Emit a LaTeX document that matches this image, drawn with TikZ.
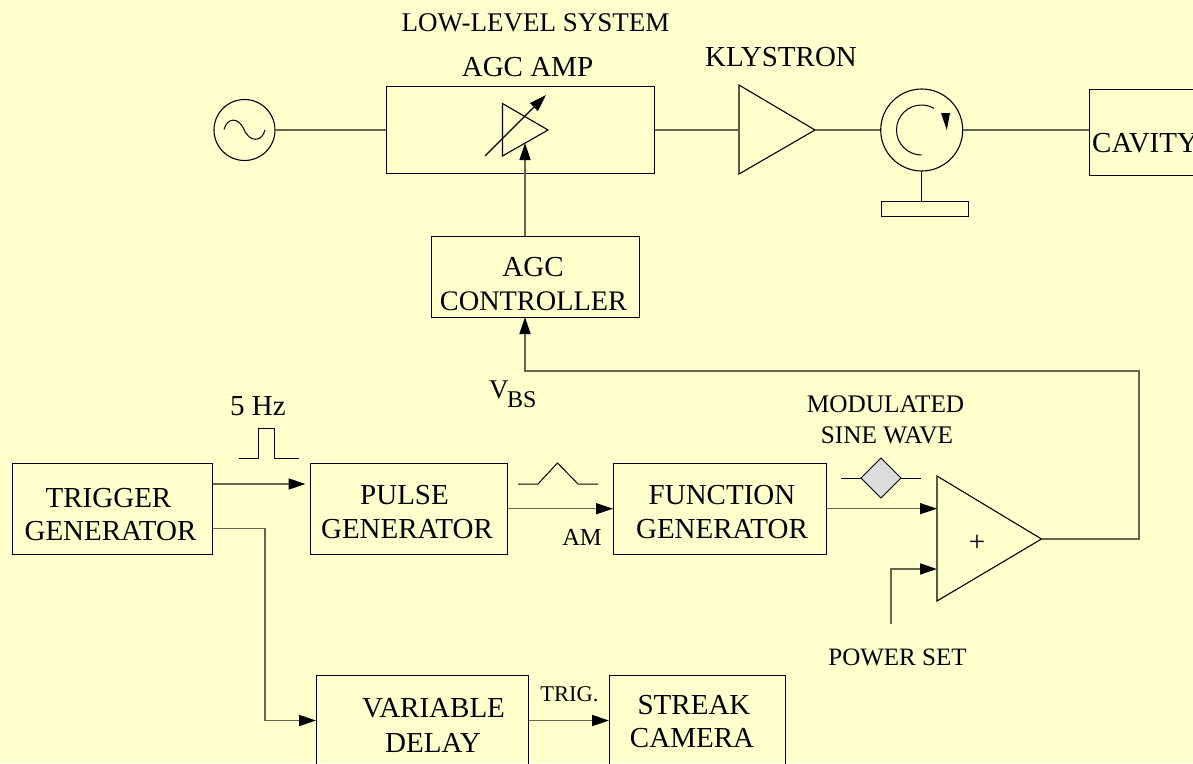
\documentclass[tikz,border=0pt]{standalone}
\usepackage{fontspec}
\setmainfont{Liberation Serif}
\usetikzlibrary{arrows.meta}
\definecolor{paper}{HTML}{FFFFCC}
\definecolor{wire}{HTML}{666650}
\definecolor{diafill}{HTML}{DCDCDC}
\tikzset{
  every picture/.style={x=1pt,y=-1pt},
  stroke/.style={line width=1.1pt,black},
  boxnode/.style={draw,stroke,rectangle,inner sep=0pt,anchor=north west},
  wireline/.style={line width=1.5pt,wire},
  sigline/.style={wireline,-{Triangle[length=17pt,width=11pt,color=black,fill=black]}},
  roundnode/.style={draw,stroke,circle,inner sep=0pt},
  txt/.style={inner sep=0pt,text=black,font=\fontsize{29}{32}\selectfont},
  txtl/.style={txt,font=\fontsize{27}{30}\selectfont},
  txtb/.style={txt,font=\fontsize{25.3}{28}\selectfont},
  txts/.style={txt,font=\fontsize{22.5}{26}\selectfont},
}
\begin{document}
\begin{tikzpicture}
\useasboundingbox (0,0) rectangle (1193,763);
\fill[paper] (0,0) rectangle (1193,763);
\clip (0,0) rectangle (1193,763);

% blocks
\node[roundnode,minimum size=61pt] (src) at (244.5,130) {};
\node[boxnode,minimum width=268pt,minimum height=87pt] (agc) at (386,86) {};
\node[roundnode,minimum size=82pt] (circ) at (921.7,130) {};
\node[boxnode,minimum width=86.5pt,minimum height=15pt] (load) at (881,200.5) {};
\node[boxnode,minimum width=160pt,minimum height=86pt] (cavity) at (1089,89) {};
\node[boxnode,minimum width=208pt,minimum height=81pt] (ctrl) at (431,236) {};
\node[boxnode,minimum width=200pt,minimum height=91pt] (trig) at (12,463) {};
\node[boxnode,minimum width=197pt,minimum height=91pt] (pulse) at (310,463) {};
\node[boxnode,minimum width=213pt,minimum height=91pt] (func) at (613,463) {};
\node[boxnode,minimum width=212pt,minimum height=140pt] (delay) at (316,675) {};
\node[boxnode,minimum width=176pt,minimum height=140pt] (streak) at (609,675) {};

% triangles
\coordinate (vaIn) at (502.5,130);
\coordinate (vaTip) at (548,130);
\coordinate (kIn) at (739,130);
\coordinate (kTip) at (815,130);
\coordinate (sumIn) at (937,539);
\coordinate (sumTip) at (1041.5,539);
\draw[stroke] (502.5,103.5) -- (vaTip) -- (502.5,156) -- cycle;
\draw[stroke] (739,85) -- (kTip) -- (739,174) -- cycle;
\draw[stroke] (937,476) -- (sumTip) -- (937,601) -- cycle;

% variable gain arrow
\coordinate (gainA) at (485,156);
\coordinate (gainB) at (546,95);
\draw[stroke,-{Triangle[length=17pt,width=11pt]}] (gainA) -- (gainB);

% sine in source
\draw[stroke,line width=1pt] (224,129.5) .. controls (227,118) and (238,116) .. (244,129.5)
  .. controls (250,143) and (262,142) .. (265,130);

% circulator inner arrow
\draw[stroke,line width=1pt] (921.5,155) arc[start angle=90,end angle=300,radius=25pt,y radius=-25pt] ;
\fill[black] (941,113) -- (950,113) -- (946.8,130) -- cycle;

% connectors
\draw[wireline] (src.east) -- (agc.west |- src.east);
\draw[wireline] (agc.east |- vaTip) -- (kIn);
\draw[wireline] (kTip) -- (circ.west);
\draw[wireline] (circ.east) -- (cavity.west |- circ.east);
\draw[stroke] (circ.south) -- (circ.south |- load.north);
\coordinate (ctrlOut) at (525,236);
\coordinate (ampCtl) at (525,143);
\draw[sigline] (ctrlOut) -- (ampCtl);
\coordinate (ctrlIn) at (525,317);
\coordinate (fbA) at (1139,539);
\coordinate (fbB) at (1139,371);
\coordinate (fbC) at (525,371);
\draw[sigline] (sumTip) -- (fbA) -- (fbB) -- (fbC) -- (ctrlIn);
\coordinate (pIn) at (305.5,484);
\draw[sigline] (trig.east |- pIn) -- (pIn);
\draw[sigline] (pulse.east |- 0,508.7) -- (func.west |- 0,508.7);
\draw[sigline] (func.east |- 0,508.7) -- (937,508.7);
\coordinate (psA) at (891,624);
\coordinate (psB) at (891,569);
\coordinate (psC) at (937,569);
\draw[sigline] (psA) -- (psB) -- (psC);
\coordinate (dlA) at (265,528.5);
\coordinate (dlB) at (265,720.5);
\draw[sigline] (trig.east |- dlA) -- (dlA) -- (dlB) -- (delay.west |- dlB);
\draw[sigline] (delay.east |- dlB) -- (streak.west |- dlB);

% waveforms
\draw[stroke,line width=1pt] (239,458) -- (258.7,458) -- (258.7,428) -- (274,428) -- (274,458) -- (299,458);
\draw[stroke,line width=1pt] (518,484) -- (538,484) -- (557.5,463) -- (578,484) -- (598,484);
\coordinate (mlA) at (841,478);
\coordinate (mlB) at (921,478);
\draw[stroke,line width=1pt] (mlA) -- (mlB);
\draw[stroke,line width=1pt,fill=diafill] (861,478) -- (881,458) -- (901,478) -- (881,498) -- cycle;

% labels
\node[txtl] (tLow) at (535.5,23) {LOW-LEVEL SYSTEM};
\node[txt] (tAmp) at (527.5,67) {AGC AMP};
\node[txt] (tKly) at (781,57) {KLYSTRON};
\node[txt,anchor=west] (tCav) at (1092,143) {CAVITY};
\node[txt] (tAgc) at (533,267) {AGC};
\node[txt,font=\fontsize{28.3}{32}\selectfont] (tCtl) at (533.5,301) {CONTROLLER};
\node[txt,anchor=base west,font=\fontsize{27}{30}\selectfont] (tVbs) at (489,398) {V\kern-1.5pt\raisebox{-9pt}{\fontsize{24}{28}\selectfont BS}};
\node[txt] (t5hz) at (258,406) {5 Hz};
\node[txt] (tTr1) at (108.5,498) {TRIGGER};
\node[txt] (tTr2) at (110.5,531) {GENERATOR};
\node[txt] (tPu1) at (404.5,495) {PULSE};
\node[txt] (tPu2) at (407,529) {GENERATOR};
\node[txt] (tFu1) at (722,495) {FUNCTION};
\node[txt] (tFu2) at (722,529) {GENERATOR};
\node[txtb,font=\fontsize{24.5}{28}\selectfont] (tAm) at (582,537) {AM};
\node[txtb] (tMod) at (885.5,404) {MODULATED};
\node[txtb] (tSin) at (887,435) {SINE WAVE};
\node[txtb,font=\fontsize{25}{28}\selectfont] (tPow) at (897.5,657) {POWER SET};
\node[txt] (tPlus) at (977,543) {+};
\node[txt] (tVar) at (433.5,708) {VARIABLE};
\node[txt] (tDel) at (433,743) {DELAY};
\node[txts] (tTrg) at (569.5,694) {TRIG.};
\node[txt] (tStr) at (694,705) {STREAK};
\node[txt] (tCam) at (692,738) {CAMERA};
\end{tikzpicture}
\end{document}
